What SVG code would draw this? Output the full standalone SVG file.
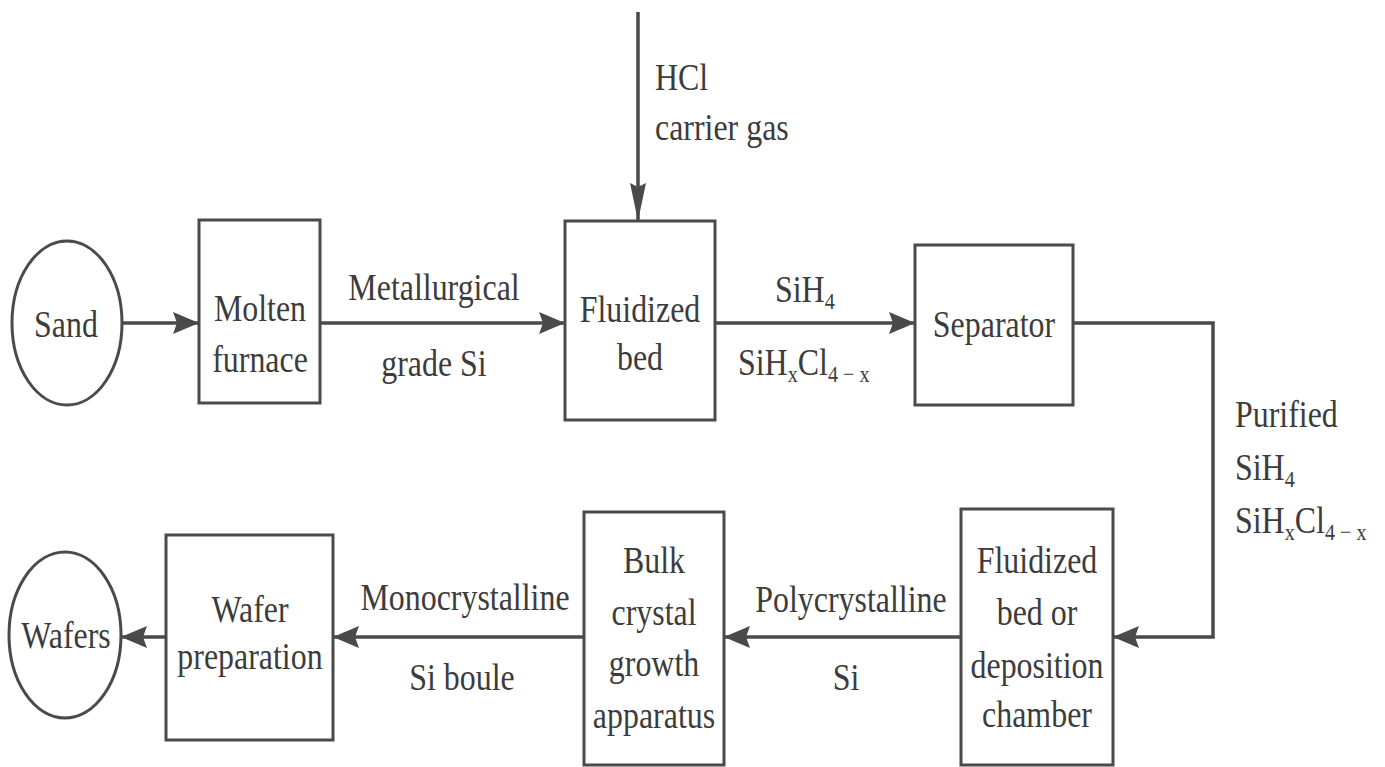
<svg xmlns="http://www.w3.org/2000/svg" width="1385" height="767" viewBox="0 0 1385 767">
  <style>
    .node { fill: #ffffff; stroke: #4a4a4a; stroke-width: 3; }
    .flow { fill: none; stroke: #4a4a4a; stroke-width: 3.5; }
    .lbl { font-family: "Liberation Serif", "Times New Roman", serif; font-size: 38px; fill: #3c3c3c; }
    .mid { text-anchor: middle; }
    .sub { font-size: 24px; }
  </style>
  <defs>
    <marker id="arrow" markerUnits="userSpaceOnUse" markerWidth="28" markerHeight="24" refX="26" refY="11" orient="auto">
      <path d="M0,0 L26,11 L0,22 L4,11 Z" fill="#4a4a4a"/>
    </marker>
    <marker id="arrowV" markerUnits="userSpaceOnUse" markerWidth="40" markerHeight="18" refX="38" refY="8" orient="auto">
      <path d="M0,0 L38,8 L0,16 L4,8 Z" fill="#4a4a4a"/>
    </marker>
  </defs>

  <rect width="1385" height="767" fill="#ffffff"/>

  <!-- connectors -->
  <g id="connectors">
    <line class="flow" x1="122" y1="323" x2="199" y2="323" marker-end="url(#arrow)"/>
    <line class="flow" x1="320" y1="323" x2="565" y2="323" marker-end="url(#arrow)"/>
    <line class="flow" x1="638" y1="12" x2="638" y2="221" marker-end="url(#arrowV)"/>
    <line class="flow" x1="715" y1="323" x2="915" y2="323" marker-end="url(#arrow)"/>
    <polyline class="flow" points="1073,323 1213,323 1213,637 1113,637" marker-end="url(#arrow)"/>
    <line class="flow" x1="961" y1="637" x2="724" y2="637" marker-end="url(#arrow)"/>
    <line class="flow" x1="584" y1="637" x2="333" y2="637" marker-end="url(#arrow)"/>
    <line class="flow" x1="166" y1="637" x2="121" y2="637" marker-end="url(#arrow)"/>

    <!-- flow labels -->
    <text class="lbl mid" transform="translate(434,300) scale(0.84,1)">Metallurgical</text>
    <text class="lbl mid" transform="translate(434,376) scale(0.84,1)">grade Si</text>
    <text class="lbl" transform="translate(655,90) scale(0.84,1)">HCl</text>
    <text class="lbl" transform="translate(655,140) scale(0.84,1)">carrier gas</text>
    <text class="lbl" transform="translate(775,302) scale(0.84,1)">SiH<tspan class="sub" dy="7">4</tspan></text>
    <text class="lbl" transform="translate(738,375) scale(0.84,1)">SiH<tspan class="sub" dy="7">x</tspan><tspan dy="-7">Cl</tspan><tspan class="sub" dy="7">4 − x</tspan></text>
    <text class="lbl" transform="translate(1235,427) scale(0.84,1)">Purified</text>
    <text class="lbl" transform="translate(1235,480) scale(0.84,1)">SiH<tspan class="sub" dy="7">4</tspan></text>
    <text class="lbl" transform="translate(1235,533) scale(0.84,1)">SiH<tspan class="sub" dy="7">x</tspan><tspan dy="-7">Cl</tspan><tspan class="sub" dy="7">4 − x</tspan></text>
    <text class="lbl mid" transform="translate(851,612) scale(0.84,1)">Polycrystalline</text>
    <text class="lbl mid" transform="translate(846,690) scale(0.84,1)">Si</text>
    <text class="lbl mid" transform="translate(465,610) scale(0.84,1)">Monocrystalline</text>
    <text class="lbl mid" transform="translate(462,690) scale(0.84,1)">Si boule</text>
  </g>

  <!-- nodes -->
  <g id="sand">
    <ellipse class="node" cx="67" cy="323" rx="55" ry="82"/>
    <text class="lbl mid" transform="translate(66,337) scale(0.84,1)">Sand</text>
  </g>
  <g id="molten-furnace">
    <rect class="node" x="199" y="220" width="121" height="183"/>
    <text class="lbl mid" transform="translate(260,321) scale(0.84,1)">Molten</text>
    <text class="lbl mid" transform="translate(260,372) scale(0.84,1)">furnace</text>
  </g>
  <g id="fluidized-bed">
    <rect class="node" x="565" y="221" width="150" height="199"/>
    <text class="lbl mid" transform="translate(640,322) scale(0.84,1)">Fluidized</text>
    <text class="lbl mid" transform="translate(640,370) scale(0.84,1)">bed</text>
  </g>
  <g id="separator">
    <rect class="node" x="915" y="245" width="158" height="160"/>
    <text class="lbl mid" transform="translate(994,337) scale(0.84,1)">Separator</text>
  </g>
  <g id="deposition-chamber">
    <rect class="node" x="961" y="509" width="152" height="256"/>
    <text class="lbl mid" transform="translate(1037,573) scale(0.84,1)">Fluidized</text>
    <text class="lbl mid" transform="translate(1037,625) scale(0.84,1)">bed or</text>
    <text class="lbl mid" transform="translate(1037,678) scale(0.84,1)">deposition</text>
    <text class="lbl mid" transform="translate(1037,727) scale(0.84,1)">chamber</text>
  </g>
  <g id="crystal-growth">
    <rect class="node" x="584" y="512" width="140" height="253"/>
    <text class="lbl mid" transform="translate(654,573) scale(0.84,1)">Bulk</text>
    <text class="lbl mid" transform="translate(654,625) scale(0.84,1)">crystal</text>
    <text class="lbl mid" transform="translate(654,676) scale(0.84,1)">growth</text>
    <text class="lbl mid" transform="translate(654,728) scale(0.84,1)">apparatus</text>
  </g>
  <g id="wafer-preparation">
    <rect class="node" x="166" y="535" width="167" height="205"/>
    <text class="lbl mid" transform="translate(250,622) scale(0.84,1)">Wafer</text>
    <text class="lbl mid" transform="translate(250,669) scale(0.84,1)">preparation</text>
  </g>
  <g id="wafers">
    <ellipse class="node" cx="65" cy="635" rx="56" ry="83"/>
    <text class="lbl mid" transform="translate(66,648) scale(0.84,1)">Wafers</text>
  </g>
</svg>
